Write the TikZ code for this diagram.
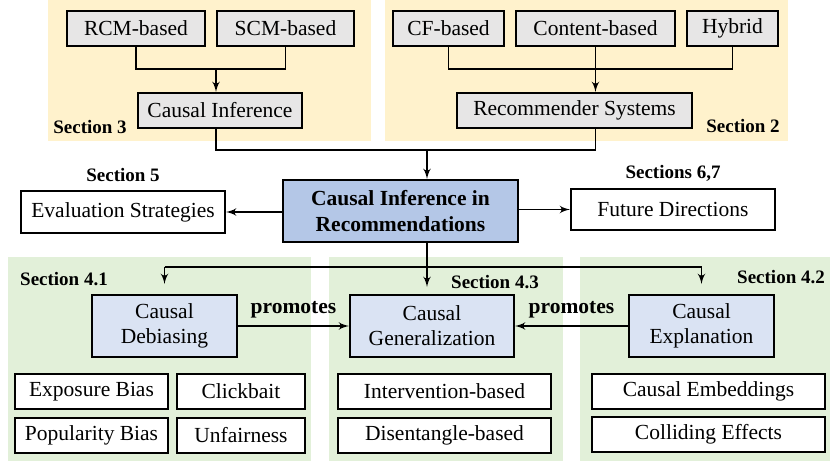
\documentclass[tikz,border=0pt]{standalone}
\usepackage{fontspec}
\setmainfont{Liberation Serif}
\usepackage{tikz}
\usetikzlibrary{positioning, arrows, shapes}
\definecolor{lightyellow}{HTML}{FFF2CC}
\definecolor{lightgreen}{HTML}{E2F0D9}
\definecolor{boxgray}{HTML}{E7E6E6}
\definecolor{mainblue}{HTML}{B4C7E7}
\definecolor{paleblue}{HTML}{DAE3F3}
\tikzstyle{line} = [draw, line width=0.8pt, -latex']
\tikzstyle{block} = [rectangle, draw, line width=1pt, text centered, inner sep=0pt,
    minimum height=17.5pt, font=\fontsize{10.75}{13}\selectfont]
\tikzstyle{graybox} = [block, fill=boxgray]
\tikzstyle{plainbox} = [block, fill=white]
\tikzstyle{topic} = [block, fill=paleblue, align=center, minimum height=31pt,
    font=\fontsize{10.75}{12.5}\selectfont]
\tikzstyle{mainbox} = [block, fill=mainblue, align=center, minimum height=31pt,
    minimum width=117.5pt, font=\fontsize{10.75}{13}\selectfont\bfseries]
\tikzstyle{sectiontag} = [font=\fontsize{9.5}{11}\selectfont\bfseries]

\begin{document}
\begin{tikzpicture}[x=0.5pt, y=-0.5pt]
      \useasboundingbox (0,0) rectangle (830,466);
      % Background panels
      \fill [lightyellow] (48,0) rectangle (371,141);
      \fill [lightyellow] (385,0) rectangle (788,141);
      \fill [lightgreen] (8,257) rectangle (311,461);
      \fill [lightgreen] (329,257) rectangle (563,461);
      \fill [lightgreen] (580,257) rectangle (830,461);
      % Causal inference nodes
      \node [graybox, minimum width=69pt] (rcm) at (136,28.5) {RCM-based};
      \node [graybox, minimum width=68.5pt, right of=rcm, node distance=74.75pt] (scm) {SCM-based};
      \node [graybox, minimum width=82pt] (ci) at (220,110.5) {Causal Inference};
      \node [sectiontag] (sec3) at (90,127) {Section 3};
      % Recommender nodes
      \node [graybox, minimum width=55.5pt] (cf) at (448.5,28.5) {CF-based};
      \node [graybox, minimum width=79.5pt, right of=cf, node distance=73.5pt] (content) {Content-based};
      \node [graybox, minimum width=45.5pt, right of=content, node distance=68.5pt] (hybrid) {Hybrid};
      \node [graybox, minimum width=117.5pt] (recsys) at (574.5,110.5) {Recommender Systems};
      \node [sectiontag] (sec2) at (743,126) {Section 2};
      % Middle row
      \node [mainbox] (main) at (400.5,211) {Causal Inference in\\Recommendations};
      \node [plainbox, minimum width=102pt, minimum height=21pt] (eval) at (123,212) {Evaluation Strategies};
      \node [plainbox, minimum width=102pt, minimum height=20.5pt] (future) at (673,209.5) {Future Directions};
      \node [sectiontag, above of=eval, node distance=18.5pt] (sec5) {Section 5};
      \node [sectiontag, above of=future, node distance=18.25pt] (sec67) {Sections 6,7};
      % Section 4 nodes
      \node [topic, minimum width=72.5pt] (debias) at (164.5,326) {Causal\\Debiasing};
      \node [topic, minimum width=82pt] (general) at (432,326) {Causal\\Generalization};
      \node [topic, minimum width=72.5pt] (explain) at (701.5,326) {Causal\\Explanation};
      \node [sectiontag] (sec41) at (64,279) {Section 4.1};
      \node [sectiontag] (sec43) at (495,282) {Section 4.3};
      \node [sectiontag] (sec42) at (781,277) {Section 4.2};
      % Leaf nodes
      \node [plainbox, minimum width=76.5pt] (exposure) at (91.5,391.5) {Exposure Bias};
      \node [plainbox, minimum width=64pt, right of=exposure, node distance=74.75pt] (clickbait) {Clickbait};
      \node [plainbox, minimum width=76.5pt, below of=exposure, node distance=21.75pt] (popularity) {Popularity Bias};
      \node [plainbox, minimum width=64pt, below of=clickbait, node distance=21.75pt] (unfair) {Unfairness};
      \node [plainbox, minimum width=106.5pt] (interv) at (444.5,391.5) {Intervention-based};
      \node [plainbox, minimum width=106.5pt, below of=interv, node distance=21.75pt] (disent) {Disentangle-based};
      \node [plainbox, minimum width=116.5pt] (embed) at (708.5,391.5) {Causal Embeddings};
      \node [plainbox, minimum width=116.5pt, below of=embed, node distance=21.5pt] (collide) {Colliding Effects};
      % Joints
      \coordinate (j3) at (216,69);
      \coordinate (j2) at (597,69);
      \coordinate (j1) at (427,150);
      \coordinate (j4) at (427,267);
      % Draw top edges
      \draw [line width=0.8pt] (rcm) |- (j3) -| (scm);
      \path [line] (j3) -- (j3 |- ci.north);
      \draw [line width=0.8pt] (cf) |- (j2) -| (hybrid);
      \path [line] (content) -- (content |- recsys.north);
      \draw [line width=0.8pt] (ci.south -| j3) |- (j1) -| (recsys.south -| content);
      \path [line] (j1) -- (j1 |- main.north);
      % Draw middle edges
      \path [line] (main.west |- eval.east) -- (eval.east);
      \path [line] (main.east |- future.west) -- (future.west);
      % Draw section 4 edges
      \draw [line width=0.8pt] (j1 |- main.south) -- (j4);
      \draw [line width=0.8pt] (debias |- j4) -- (explain |- j4);
      \path [line, shorten >=5pt] (debias |- j4) -- (debias);
      \path [line, shorten >=3.5pt] (j4) -- (j4 |- general.north);
      \path [line, shorten >=5pt] (explain |- j4) -- (explain);
      \path [line] (debias) -- node[above, font=\fontsize{10.75}{13}\selectfont\bfseries] {promotes} (general);
      \path [line] (explain) -- node[above, font=\fontsize{10.75}{13}\selectfont\bfseries] {promotes} (general);
  \end{tikzpicture}
\end{document}
